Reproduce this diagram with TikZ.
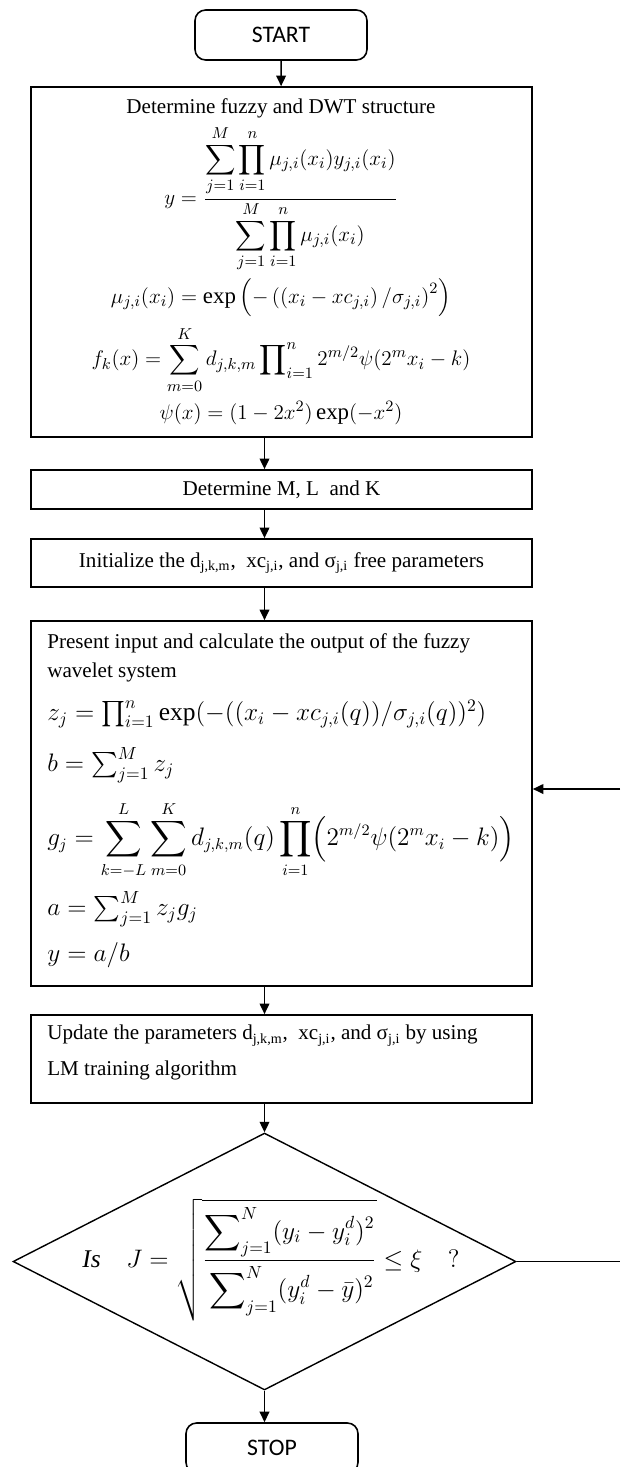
\documentclass[tikz,border=0pt]{standalone}
\usepackage{amsmath}
\usepackage{fontspec}
\setmainfont{Liberation Serif}
\newfontfamily\termfont{Carlito}
\usetikzlibrary{shapes.geometric, arrows.meta}

\tikzset{
  box/.style={draw, line width=1pt, minimum width=10.02cm, inner sep=0pt},
  term/.style={draw, line width=0.9pt, rounded corners=6pt, minimum width=3.44cm,
    minimum height=1cm, font=\termfont\fontsize{13.5}{15}\selectfont},
  decision/.style={draw, diamond, line width=0.8pt, minimum width=10.06cm,
    minimum height=5.14cm, inner sep=0pt},
  txt/.style={inner sep=0pt, align=left},
  eq/.style={inner sep=0pt, font=\fontsize{13}{16}\selectfont},
  eqbig/.style={inner sep=0pt, font=\fontsize{14.5}{17}\selectfont},
  arr/.style={-{Triangle[length=6pt,width=5.5pt]}, line width=0.9pt},
}

\begin{document}
\begin{tikzpicture}[x=0.02cm, y=-0.02cm, font=\fontsize{12}{14}\selectfont]
    \useasboundingbox (0,0) rectangle (620,1467);
    \node[term] (start) at (281,35) {START};

    % fuzzy / DWT structure
    \node[box, minimum height=7cm] (fuzzy) at (281.5,262) {};
    \node[inner sep=0pt] (fuzzyhead) at (281,108) {Determine fuzzy and DWT structure};
    \node[eq] (eqy) at (281,199) {$\displaystyle y=\frac{\displaystyle\sum_{j=1}^{M}\prod_{i=1}^{n}\mu_{j,i}(x_i)y_{j,i}(x_i)}
            {\displaystyle\sum_{j=1}^{M}\prod_{i=1}^{n}\mu_{j,i}(x_i)}$};
    \node[eq] (eqmu) at (281,298) {$\mu_{j,i}(x_i)=\exp\left(-\left(\left(x_i-xc_{j,i}\right)/\sigma_{j,i}\right)^2\right)$};
    \node[eq] (eqf) at (281,360) {$\displaystyle f_k(x)=\sum_{m=0}^{K}d_{j,k,m}\prod\nolimits_{i=1}^{n}2^{m/2}\psi(2^m x_i-k)$};
    \node[eq] (eqpsi) at (281,413) {$\psi(x)=(1-2x^2)\exp(-x^2)$};

    \node[box, minimum height=0.78cm] (mlk) at (281.5,489.5) {Determine M, L\ \ and K};
    \node[box, minimum height=0.96cm] (init) at (281.5,563)
        {Initialize the d\textsubscript{j,k,m},\ \ xc\textsubscript{j,i}, and σ\textsubscript{j,i} free parameters};

    % output of the fuzzy wavelet system
    \node[box, minimum height=7.3cm] (calc) at (281.5,803.5) {};
    \node[txt, anchor=west] (calchead) at (47,657.5) {Present input and calculate the output of the fuzzy\\[2.5pt]
        wavelet system};
    \node[eqbig, anchor=west] (eqz) at (47,714) {$z_j=\prod\nolimits_{i=1}^{n}\exp(-((x_i-xc_{j,i}(q))/\sigma_{j,i}(q))^2)$};
    \node[eqbig, anchor=west] (eqb) at (47,765) {$b=\sum\nolimits_{j=1}^{M}z_j$};
    \node[eqbig, anchor=west, font=\fontsize{13.5}{16}\selectfont] (eqg) at (47,840) {$\displaystyle g_j=\sum_{k=-L}^{L}\sum_{m=0}^{K}d_{j,k,m}(q)\prod_{i=1}^{n}\Bigl(2^{m/2}\psi(2^m x_i-k)\Bigr)$};
    \node[eqbig, anchor=west] (eqa) at (47,909) {$a=\sum\nolimits_{j=1}^{M}z_j g_j$};
    \node[eqbig, anchor=west] (eqab) at (47,955) {$y=a/b$};

    \node[box, minimum height=1.76cm] (update) at (281.5,1059) {};
    \node[txt, anchor=west] (updatetext) at (47,1052.5) {Update the parameters d\textsubscript{j,k,m},\ \ xc\textsubscript{j,i}, and σ\textsubscript{j,i} by using\\[6pt]
        LM training algorithm};

    % stopping test
    \node[decision] (check) at (264.5,1261.5) {};
    \node[eqbig] (cond) at (271,1260) {\textit{Is}\quad
        $J=\sqrt{\dfrac{\displaystyle\sum\nolimits_{j=1}^{N}(y_i-y_i^d)^2\rule[-5pt]{0pt}{5pt}}
            {\rule{0pt}{19pt}\displaystyle\sum\nolimits_{j=1}^{N}(y_i^d-\bar{y})^2}}\le\xi\quad ?$};
    \node[term] (stop) at (272,1448) {STOP};
    \coordinate (loopin) at (620,789);
    \coordinate (loopout) at (620,1261.5);

    \draw[arr] (start) -- (fuzzy);
    \draw[arr] (fuzzy.south -| check) -- (mlk.north -| check);
    \draw[arr] (mlk.south -| check) -- (init.north -| check);
    \draw[arr] (init.south -| check) -- (calc.north -| check);
    \draw[arr] (calc.south -| check) -- (update.north -| check);
    \draw[arr] (update.south -| check) -- (check.north);
    \draw[arr] (check.south) -- (stop.north -| check);
    \draw[line width=0.8pt] (check.east) -- (loopout);
    \draw[arr] (loopin) -- (calc.east |- loopin);
\end{tikzpicture}
\end{document}
